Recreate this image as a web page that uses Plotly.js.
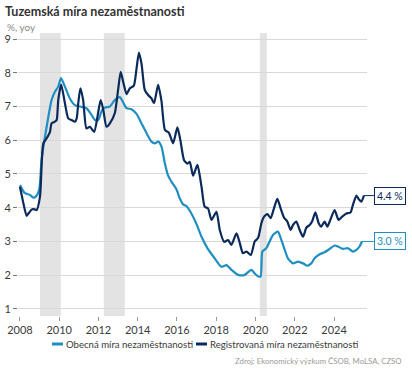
<!DOCTYPE html>
<html>
<head>
<meta charset="utf-8">
<script src="https://cdn.plot.ly/plotly-3.0.1.min.js"></script>
<style>html,body{margin:0;padding:0;background:#fff;}#chart{width:412px;height:375px;}</style>
</head>
<body>
<div id="chart"></div>
<script>
// General unemployment rate (LFS), %
const generalYears = [2008.00,2008.25,2008.51,2008.68,2008.81,2008.98,2009.10,2009.36,2009.61,2009.78,2009.95,2010.09,2010.29,2010.54,2010.80,2011.14,2011.39,2011.65,2011.82,2011.98,2012.19,2012.33,2012.58,2012.83,2013.09,2013.26,2013.43,2013.68,2013.94,2014.19,2014.45,2014.70,2014.87,2015.05,2015.21,2015.38,2015.55,2015.74,2015.97,2016.14,2016.31,2016.48,2016.74,2016.99,2017.25,2017.57,2017.92,2018.26,2018.52,2018.77,2019.11,2019.45,2019.79,2019.96,2020.13,2020.26,2020.35,2020.55,2020.72,2020.89,2021.14,2021.32,2021.49,2021.65,2021.91,2022.16,2022.42,2022.64,2022.84,2023.01,2023.27,2023.52,2023.78,2024.03,2024.20,2024.45,2024.71,2024.96,2025.14,2025.30,2025.42];
const generalRate = [4.67,4.43,4.38,4.30,4.33,4.53,5.41,6.40,7.19,7.44,7.59,7.84,7.59,7.24,7.04,6.99,6.95,6.75,6.60,6.60,6.90,6.97,7.00,7.19,7.28,7.12,6.95,6.92,6.78,6.50,6.21,5.96,5.91,5.96,5.81,5.32,4.95,4.75,4.55,4.28,4.10,4.05,3.82,3.52,3.14,2.78,2.50,2.25,2.30,2.16,2.01,2.01,2.16,2.05,1.97,1.96,2.70,2.80,3.00,3.19,3.29,3.04,2.75,2.50,2.35,2.40,2.35,2.28,2.35,2.50,2.62,2.68,2.78,2.88,2.85,2.78,2.80,2.70,2.75,2.85,3.00];

// Registered unemployment rate (MoLSA), %
const registeredYears = [2008.00,2008.15,2008.34,2008.46,2008.60,2008.76,2008.85,2009.02,2009.19,2009.36,2009.53,2009.61,2009.78,2009.87,2009.95,2010.10,2010.29,2010.46,2010.63,2010.80,2010.89,2010.97,2011.08,2011.22,2011.39,2011.56,2011.78,2011.95,2012.11,2012.24,2012.41,2012.58,2012.83,2013.00,2013.13,2013.26,2013.43,2013.60,2013.80,2013.94,2014.06,2014.19,2014.36,2014.53,2014.70,2014.83,2015.04,2015.21,2015.39,2015.58,2015.80,2016.02,2016.17,2016.36,2016.53,2016.65,2016.82,2017.04,2017.25,2017.41,2017.58,2017.76,2018.01,2018.18,2018.40,2018.60,2018.77,2019.03,2019.20,2019.36,2019.54,2019.76,2019.96,2020.13,2020.30,2020.43,2020.61,2020.77,2020.94,2021.11,2021.28,2021.45,2021.62,2021.79,2021.91,2022.08,2022.25,2022.42,2022.59,2022.76,2022.88,2023.05,2023.22,2023.35,2023.52,2023.66,2023.78,2024.03,2024.23,2024.40,2024.63,2024.84,2024.96,2025.14,2025.25,2025.39,2025.52];
const registeredRate = [4.62,4.20,3.76,3.85,3.95,3.95,3.93,4.33,5.91,6.06,6.25,6.50,6.55,6.60,7.19,7.65,7.10,6.65,6.60,6.55,6.65,7.10,7.54,7.19,6.35,6.40,6.25,6.70,7.19,6.92,6.40,6.50,6.80,7.50,8.03,7.73,7.37,7.54,7.62,8.13,8.60,8.28,7.49,7.34,7.24,7.10,7.64,7.16,6.30,6.23,5.91,6.38,6.01,5.41,5.31,5.36,4.95,5.27,4.62,4.03,3.98,3.64,3.88,3.34,2.99,3.04,2.90,3.24,2.95,2.65,2.70,2.60,3.00,3.10,3.54,3.73,3.81,3.69,3.98,4.26,3.98,3.71,3.59,3.34,3.49,3.59,3.34,3.14,3.41,3.49,3.59,3.86,3.54,3.44,3.59,3.44,3.59,3.93,3.64,3.73,3.83,3.86,4.08,4.36,4.26,4.18,4.36];

// Recession periods (shaded)
const recessionStart = [2009.02, 2012.27, 2020.22];
const recessionEnd   = [2010.08, 2013.34, 2020.58];

const tickYears = [2008,2010,2012,2014,2016,2018,2020,2022,2024];
const tickLabels = ['2008','2010','2012','2014','2016','2018','2020','2022','2024'];
const yTicks = [1,2,3,4,5,6,7,8,9];

const seriesNames = ['Obecná míra nezaměstnanosti','Registrovaná míra nezaměstnanosti'];
const lastLabels = ['3.0 %','4.4 %'];

const LIGHT = '#1f8fc2';
const DARK = '#0b2a5b';
const FONT = 'Lato, "Open Sans", sans-serif';
const colors = [LIGHT, DARK];

// pixel -> paper helpers (plot area: x 18..367, y 33..316)
const px = v => (v - 18) / 349;
const py = v => (316 - v) / 283;

const traces = [
  {x: generalYears, y: generalRate, name: seriesNames[0], type: 'scatter', mode: 'lines',
   line: {color: LIGHT, width: 2.2, shape: 'spline', smoothing: 0.6}, hoverinfo: 'skip', showlegend: false},
  {x: registeredYears, y: registeredRate, name: seriesNames[1], type: 'scatter', mode: 'lines',
   line: {color: DARK, width: 2.2, shape: 'spline', smoothing: 0.6}, hoverinfo: 'skip', showlegend: false}
];

const shapes = recessionStart.map((s, i) => ({
  type: 'rect', xref: 'x', yref: 'paper', x0: s, x1: recessionEnd[i], y0: 0, y1: 1,
  fillcolor: '#e3e3e3', line: {width: 0}, layer: 'below'
}));

// custom single-row legend (short line key + text)
const legendKeyX = [52, 196];
const legendTextX = [64, 208];
const legendPy = 344;
legendKeyX.forEach((kx, i) => {
  shapes.push({type: 'line', xref: 'paper', yref: 'paper',
    x0: px(kx), x1: px(kx + 11), y0: py(legendPy), y1: py(legendPy),
    line: {color: colors[i], width: 3}});
});

const annotations = [
  {xref: 'x', yref: 'y', x: generalYears[generalYears.length-1], y: generalRate[generalRate.length-1],
   text: lastLabels[0], showarrow: true, arrowhead: 0, arrowwidth: 1, arrowcolor: LIGHT, ax: 12, ay: 0,
   xanchor: 'left', font: {family: FONT, size: 10.5, color: LIGHT}, bgcolor: '#fff',
   bordercolor: LIGHT, borderwidth: 1, borderpad: 2},
  {xref: 'x', yref: 'y', x: registeredYears[registeredYears.length-1], y: registeredRate[registeredRate.length-1],
   text: lastLabels[1], showarrow: true, arrowhead: 0, arrowwidth: 1, arrowcolor: DARK, ax: 10, ay: 0,
   xanchor: 'left', font: {family: FONT, size: 10.5, color: DARK}, bgcolor: '#fff',
   bordercolor: DARK, borderwidth: 1, borderpad: 2},
  {xref: 'paper', yref: 'paper', x: px(5), y: py(27), xanchor: 'left', yanchor: 'middle',
   text: '%, yoy', showarrow: false, font: {family: FONT, size: 10, color: '#8a8a8a'}},
  {xref: 'paper', yref: 'paper', x: px(404), y: py(361), xanchor: 'right', yanchor: 'middle',
   text: 'Zdroj: Ekonomický výzkum ČSOB, MoLSA, CZSO', showarrow: false,
   font: {family: FONT, size: 7.8, color: '#9a9a9a'}}
];
legendTextX.forEach((tx, i) => {
  annotations.push({xref: 'paper', yref: 'paper', x: px(tx), y: py(legendPy), xanchor: 'left', yanchor: 'middle',
    text: seriesNames[i], showarrow: false, font: {family: FONT, size: 9.6, color: '#3a3a3a'}});
});

const layout = {
  width: 412, height: 375,
  margin: {l: 18, r: 45, t: 33, b: 59},
  paper_bgcolor: '#fff', plot_bgcolor: '#fff',
  font: {family: FONT, color: '#3a3a3a', size: 11},
  title: {text: '<b>Tuzemská míra nezaměstnanosti</b>', x: 5/412, xanchor: 'left', xref: 'container',
          y: 1 - 12/375, yanchor: 'middle', yref: 'container',
          font: {family: FONT, size: 12.5, color: '#333'}},
  xaxis: {range: [2007.9, 2025.68], tickvals: tickYears, ticktext: tickLabels, showgrid: false,
          zeroline: false, showline: false, ticks: 'outside', ticklen: 4, tickcolor: '#999',
          tickfont: {family: FONT, size: 11, color: '#3a3a3a'}, fixedrange: true},
  yaxis: {range: [0.79, 9.18], tickvals: yTicks, showgrid: true, gridcolor: '#d9d9d9', gridwidth: 1,
          zeroline: false, showline: false, ticks: 'outside', ticklen: 4, tickcolor: '#777',
          tickfont: {family: FONT, size: 11, color: '#3a3a3a'}, fixedrange: true},
  shapes: shapes,
  annotations: annotations,
  showlegend: false
};

Plotly.newPlot('chart', traces, layout, {displayModeBar: false, staticPlot: true});
</script>
</body>
</html>
